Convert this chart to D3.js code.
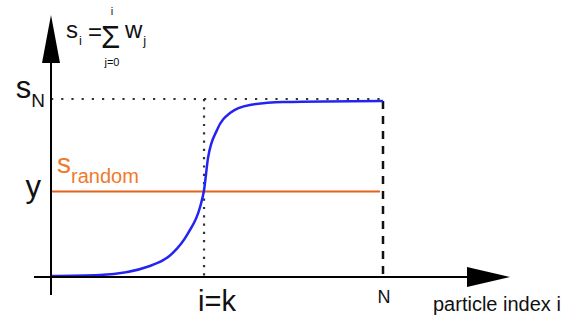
<!DOCTYPE html>
<html>
<head>
<meta charset="utf-8">
<script src="https://cdn.jsdelivr.net/npm/d3@7"></script>
<style>
  body { margin: 0; background: #fff; }
  text { font-family: "Liberation Sans", Arial, Helvetica, sans-serif; }
</style>
</head>
<body>
<script>
var w = 585,
    h = 322;

// cumulative weight curve s_i (index in % of N, value as fraction of s_N)
var curveIndex = [0, 14.8, 29.8, 36.7, 41.3, 44.9, 46.1, 47.3, 50.0, 53.9, 59.9, 69.9, 100];
var curveValue = [0.005, 0.011, 0.062, 0.135, 0.247, 0.393, 0.489, 0.669, 0.826, 0.921, 0.966, 0.983, 0.989];

var markIndex = [46.1, 100];       // k, N
var markLabels = ["i=k", "N"];
var levelValue = [1.0, 0.48];      // s_N, y (s_random)

var x = d3.scaleLinear().domain([0, 100]).range([51, 383]);
var y = d3.scaleLinear().domain([0, 1]).range([277, 99]);

var svg = d3.select("body")
          .append("svg")
          .attr("width", w)
          .attr("height", h);

// s_N dotted level
svg.append("line")
   .attr("x1", x(0)).attr("x2", x(markIndex[1]))
   .attr("y1", y(levelValue[0])).attr("y2", y(levelValue[0]))
   .attr("stroke", "#333").attr("stroke-width", 2.2)
   .attr("stroke-dasharray", "2.2 8");

// i=k dotted vertical
svg.append("line")
   .attr("x1", x(markIndex[0])).attr("x2", x(markIndex[0]))
   .attr("y1", y(levelValue[0])).attr("y2", y(0))
   .attr("stroke", "#333").attr("stroke-width", 2.2)
   .attr("stroke-dasharray", "2.2 6.1");

// N dashed vertical
svg.append("line")
   .attr("x1", x(markIndex[1])).attr("x2", x(markIndex[1]))
   .attr("y1", y(curveValue[curveValue.length - 1])).attr("y2", y(0))
   .attr("stroke", "#111").attr("stroke-width", 2.5)
   .attr("stroke-dasharray", "8 7");

// s_random level
svg.append("line")
   .attr("x1", x(0)).attr("x2", x(markIndex[1]) - 3)
   .attr("y1", y(levelValue[1])).attr("y2", y(levelValue[1]))
   .attr("stroke", "#e4621a").attr("stroke-width", 2);

// cumulative curve
var line = d3.line()
          .x(function(d, i) { return x(curveIndex[i]); })
          .y(function(d) { return y(d); })
          .curve(d3.curveMonotoneX);

svg.append("path")
   .attr("d", line(curveValue))
   .attr("fill", "none")
   .attr("stroke", "#2424f2")
   .attr("stroke-width", 2.5);

// axes
svg.append("line")
   .attr("x1", x(0)).attr("x2", x(0))
   .attr("y1", 295).attr("y2", 50)
   .attr("stroke", "#000").attr("stroke-width", 2);
svg.append("path")
   .attr("d", "M" + x(0) + ",15 L" + (x(0) + 9) + ",63 L" + (x(0) - 9) + ",63 Z")
   .attr("fill", "#000");

svg.append("line")
   .attr("x1", 34).attr("x2", 480)
   .attr("y1", y(0)).attr("y2", y(0))
   .attr("stroke", "#000").attr("stroke-width", 2);
svg.append("path")
   .attr("d", "M510," + y(0) + " L467," + (y(0) - 10) + " L467," + (y(0) + 10) + " Z")
   .attr("fill", "#000");

// formula s_i = sum w_j
var f = svg.append("g").attr("fill", "#111");
var t1 = f.append("text").attr("x", 66).attr("y", 38).attr("font-size", 24);
t1.append("tspan").text("s");
t1.append("tspan").attr("font-size", 13).attr("dy", 7).attr("dx", 1).text("i");
f.append("text").attr("x", 88).attr("y", 40).attr("font-size", 24).text("=");
f.append("text").attr("x", 101).attr("y", 48).attr("font-size", 31).text("Σ");
f.append("text").attr("x", 112).attr("y", 15).attr("font-size", 11)
 .attr("text-anchor", "middle").text("i");
f.append("text").attr("x", 112).attr("y", 66).attr("font-size", 11)
 .attr("text-anchor", "middle").text("j=0");
var t2 = f.append("text").attr("x", 125).attr("y", 38).attr("font-size", 24);
t2.append("tspan").text("w");
t2.append("tspan").attr("font-size", 13).attr("dy", 7).attr("dx", 1).text("j");

// y-side labels
var sN = svg.append("text")
          .attr("x", 45).attr("y", y(levelValue[0]) - 1)
          .attr("text-anchor", "end")
          .attr("font-size", 31).attr("fill", "#111");
sN.append("tspan").text("s");
sN.append("tspan").attr("font-size", 19).attr("dy", 9).text("N");

svg.append("text")
   .attr("x", 41).attr("y", y(levelValue[1]) + 5)
   .attr("text-anchor", "end")
   .attr("font-size", 31).attr("fill", "#111")
   .text("y");

var sr = svg.append("text")
          .attr("x", 57).attr("y", y(levelValue[1]) - 19)
          .attr("font-size", 28).attr("fill", "#f07a2a");
sr.append("tspan").text("s");
sr.append("tspan").attr("font-size", 20).attr("dy", 10).text("random");

// x-side labels
svg.append("text")
   .attr("x", x(markIndex[0]) - 6).attr("y", 311)
   .attr("font-size", 29).attr("fill", "#111")
   .text(markLabels[0]);

svg.append("text")
   .attr("x", x(markIndex[1]) + 1).attr("y", 303)
   .attr("text-anchor", "middle")
   .attr("font-size", 18).attr("fill", "#111")
   .text(markLabels[1]);

svg.append("text")
   .attr("x", 433).attr("y", 311)
   .attr("font-size", 20).attr("fill", "#111")
   .text("particle index i");
</script>
</body>
</html>
